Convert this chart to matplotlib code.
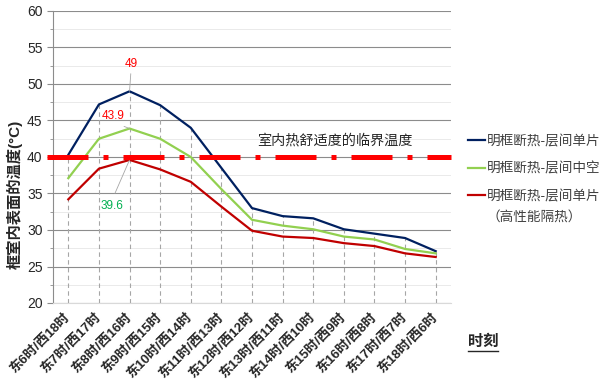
import matplotlib
matplotlib.use('Agg')
import matplotlib.pyplot as plt
from matplotlib.lines import Line2D
from matplotlib.ticker import MultipleLocator
import numpy as np

plt.rcParams['font.family'] = ['Liberation Sans', 'Noto Sans CJK SC', 'DejaVu Sans']

categories = ['东6时/西18时', '东7时/西17时', '东8时/西16时', '东9时/西15时',
              '东10时/西14时', '东11时/西13时', '东12时/西12时', '东13时/西11时',
              '东14时/西10时', '东15时/西9时', '东16时/西8时', '东17时/西7时',
              '东18时/西6时']
series_names = ['明框断热-层间单片', '明框断热-层间中空', '明框断热-层间单片']
series_note = '（高性能隔热）'
blue = [40.3, 47.2, 49.0, 47.1, 44.0, 38.5, 33.0, 31.9, 31.6, 30.1, 29.5, 28.9, 27.1]
green = [37.1, 42.5, 43.9, 42.5, 40.0, 35.6, 31.4, 30.6, 30.1, 29.1, 28.7, 27.4, 26.8]
red = [34.2, 38.4, 39.6, 38.3, 36.6, 33.2, 29.9, 29.1, 28.9, 28.2, 27.8, 26.8, 26.3]
threshold = 40
threshold_label = '室内热舒适度的临界温度'
y_label = '框室内表面的温度(°C)'
x_label = '时刻'

colors = ['#002060', '#92d050', '#c00000']

fig = plt.figure(figsize=(6, 3.88), dpi=100)
ax = fig.add_axes([53 / 600, 1 - 303 / 388, 398 / 600, 292 / 388])

x = np.arange(len(categories))
ax.set_xlim(-0.5, len(categories) - 0.5)
ax.set_ylim(20, 60)

# grid
ax.yaxis.set_major_locator(MultipleLocator(5))
ax.yaxis.set_minor_locator(MultipleLocator(2.5))
ax.grid(which='major', axis='y', color='#8c8c8c', lw=0.8, zorder=0)
ax.grid(which='minor', axis='y', color='#e6e6e6', lw=0.6, zorder=0)
ax.set_axisbelow(True)
for s in ['top', 'right']:
    ax.spines[s].set_visible(False)
ax.spines['left'].set_color('#8c8c8c')
ax.spines['bottom'].set_color('#d9d9d9')

# drop lines
tops = np.max([blue, green, red], axis=0)
ax.vlines(x, 20, tops, colors='#a6a6a6', linestyles=(0, (4, 3)), lw=0.8, zorder=1)

lines = []
for vals, c, n in zip([blue, green, red], colors, series_names):
    ln, = ax.plot(x, vals, color=c, lw=1.6, zorder=3, label=n)
    lines.append(ln)

# threshold line
ax.axhline(threshold, xmin=-0.015, xmax=1.0, color='#ff0000', lw=3.6,
           dashes=(8.2, 3, 1, 3), dash_capstyle='butt', clip_on=False, zorder=4)
ax.text(8.72, threshold + 2.2, threshold_label, fontsize=10.2, style='italic',
        color='#262626', ha='center', va='center')

# annotations
ax.annotate(f'{blue[2]:g}', xy=(2, blue[2]), xytext=(2.05, 52.8), color='#ff0000',
            fontsize=8.5, ha='center', va='center',
            arrowprops=dict(arrowstyle='-', color='#a6a6a6', lw=0.6, relpos=(0.5, 0),
                            shrinkA=1, shrinkB=0))
ax.annotate(f'{green[2]:g}', xy=(2, green[2]), xytext=(1.46, 45.6), color='#ff0000',
            fontsize=8.5, ha='center', va='center',
            arrowprops=dict(arrowstyle='-', color='#a6a6a6', lw=0.6, relpos=(0.5, 0),
                            shrinkA=3, shrinkB=0))
ax.annotate(f'{red[2]:g}', xy=(2, red[2]), xytext=(1.43, 33.3), color='#00b050',
            fontsize=8.5, ha='center', va='center',
            arrowprops=dict(arrowstyle='-', color='#a6a6a6', lw=0.6, relpos=(0.5, 1),
                            shrinkA=3, shrinkB=0))

# ticks
ax.set_xticks(x)
ax.set_xticklabels(categories, rotation=45, ha='right', va='center',
                   rotation_mode='anchor', fontsize=9.5, fontweight='bold', color='#262626')
ax.tick_params(axis='x', length=0, pad=9)
ax.tick_params(axis='y', which='major', direction='out', length=4, color='#8c8c8c',
               labelsize=10, labelcolor='#262626', pad=3.5)
ax.tick_params(axis='y', which='minor', direction='out', length=2.5, color='#8c8c8c')

ax.set_ylabel(y_label, fontsize=11, fontweight='bold', color='#262626')
ax.yaxis.set_label_coords(23 / 600, 0.5, transform=fig.transFigure)

# legend
leg = fig.legend(handles=lines, labels=series_names, loc='upper left',
                 bbox_to_anchor=(468 / 600, 1 - 134 / 388), frameon=False,
                 borderpad=0, borderaxespad=0, handlelength=1.25, handletextpad=0.1,
                 labelspacing=1.0, fontsize=9.8, labelcolor='#404040')
fig.text(487 / 600, 1 - 217 / 388, series_note, fontsize=9.8, color='#404040',
         ha='left', va='center')

# x label with underline
fig.text(483 / 600, 1 - 342 / 388, x_label, fontsize=11, fontweight='bold',
         color='#262626', ha='center', va='center')
fig.add_artist(Line2D([468 / 600, 498 / 600], [1 - 351 / 388] * 2,
                      transform=fig.transFigure, color='#262626', lw=1))

fig.canvas.draw()
ax.get_ygridlines()[0].set_visible(False)

fig.savefig('out.png', dpi=100)
